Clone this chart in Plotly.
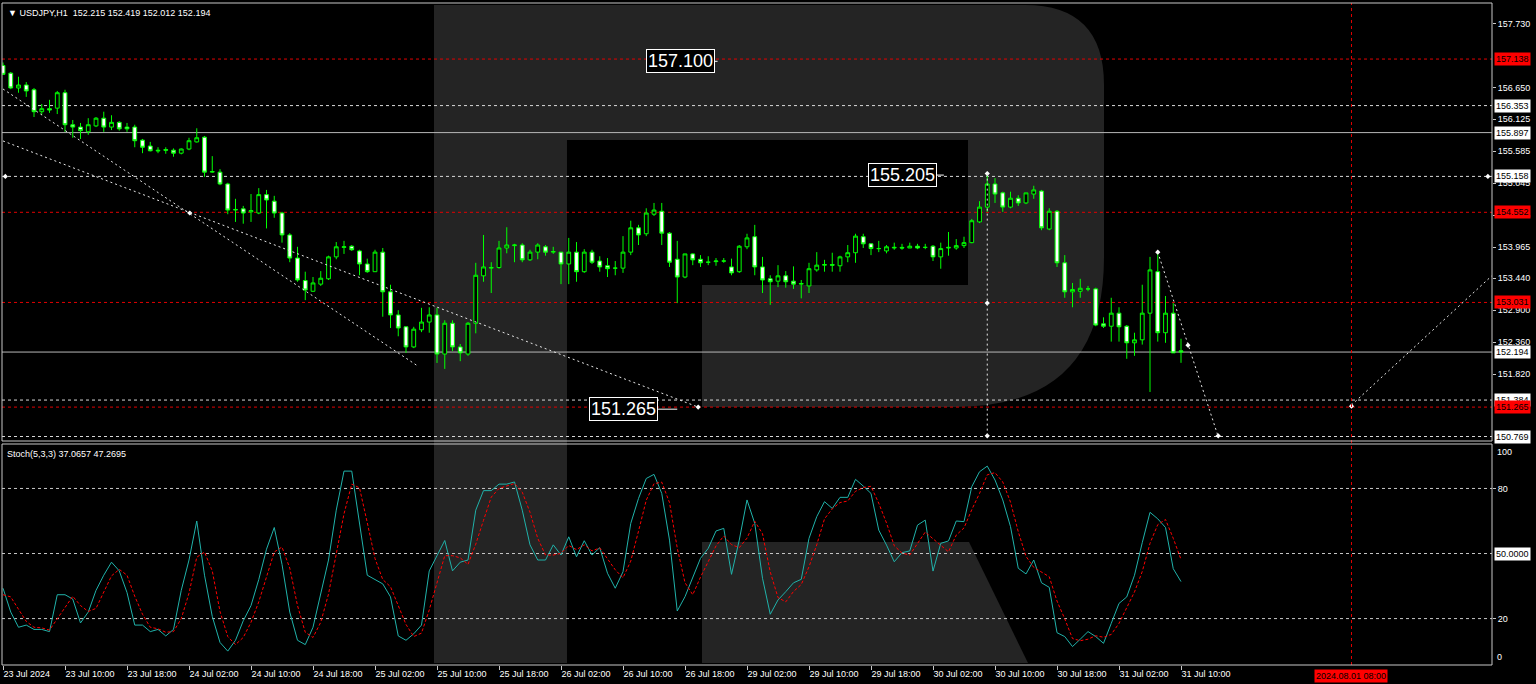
import plotly.graph_objects as go

# ---------------- data ----------------
bar_idx = list(range(153))
opens = [157.03,156.90,156.65,156.70,156.62,156.25,156.30,156.31,156.57,156.03,
         155.99,155.91,156.01,156.14,155.99,156.07,155.99,155.99,155.77,155.67,
         155.60,155.61,155.60,155.55,155.62,155.74,155.82,155.23,155.23,155.03,
         154.59,154.61,154.56,154.54,154.85,154.74,154.54,154.17,153.78,153.40,
         153.22,153.34,153.43,153.80,153.96,153.98,153.90,153.68,153.55,153.88,
         153.21,152.82,152.62,152.28,152.57,152.70,152.82,152.16,152.68,152.28,
         152.16,152.68,153.48,153.61,153.62,153.95,153.99,154.00,153.75,153.88,
         153.97,153.88,153.88,153.68,153.88,153.55,153.88,153.73,153.65,153.61,
         153.61,153.88,154.29,154.19,154.52,154.57,154.20,153.76,153.46,153.85,
         153.76,153.71,153.72,153.73,153.63,153.55,153.97,154.14,153.63,153.43,
         153.39,153.48,153.39,153.34,153.31,153.58,153.66,153.67,153.65,153.80,
         153.87,154.14,154.02,153.94,153.90,153.95,153.96,153.95,153.98,153.96,
         153.98,153.80,153.95,153.95,153.99,154.04,154.39,154.64,155.03,154.88,
         154.64,154.79,154.71,154.86,154.91,154.27,154.57,153.70,153.21,153.22,
         153.26,153.26,152.67,152.63,152.85,152.63,152.35,152.40,152.85,153.55,
         152.52,152.85,152.215]
highs = [157.08,156.92,156.84,156.75,156.65,156.38,156.45,156.60,156.62,156.11,
         156.06,156.14,156.16,156.25,156.19,156.09,156.06,156.03,155.79,155.74,
         155.65,155.65,155.63,155.63,155.81,155.97,155.84,155.50,155.28,155.05,
         154.78,154.66,154.86,154.96,154.93,154.83,154.56,154.20,153.97,153.55,
         153.46,153.56,153.82,154.05,154.07,154.00,153.92,153.77,153.92,153.95,
         153.33,152.90,152.62,152.62,152.94,152.95,152.94,152.73,152.73,152.33,
         152.70,153.70,154.17,153.71,154.07,154.30,154.02,154.03,153.92,154.03,
         154.00,153.97,153.88,154.12,154.05,153.93,153.92,153.81,153.78,153.73,
         154.15,154.41,154.34,154.62,154.71,154.71,154.22,154.07,153.85,153.86,
         153.83,153.81,153.78,153.78,153.77,154.00,154.19,154.34,153.80,153.49,
         153.66,153.56,153.64,153.41,153.70,153.88,153.75,153.87,153.82,154.00,
         154.19,154.19,154.03,154.07,154.00,154.04,154.02,154.04,154.02,154.02,
         154.00,154.04,154.22,154.10,154.14,154.44,154.74,155.205,155.13,154.90,
         154.90,154.84,154.88,155.00,154.93,154.62,154.59,153.83,153.36,153.43,
         153.31,153.28,152.78,153.11,152.95,152.65,152.52,153.33,153.80,153.88,
         153.14,153.02,152.419]
lows = [156.87,156.63,156.57,156.50,156.16,156.20,156.23,156.21,155.91,155.81,
        155.79,155.86,155.99,155.91,155.94,155.93,155.91,155.65,155.55,155.58,
        155.55,155.54,155.49,155.53,155.60,155.73,155.15,155.22,155.01,154.52,
        154.39,154.36,154.39,154.52,154.28,154.46,154.04,153.71,153.38,153.07,
        153.21,153.31,153.41,153.76,153.85,153.90,153.49,153.53,153.55,152.79,
        152.60,152.46,152.18,152.26,152.53,152.52,152.01,151.91,152.21,152.04,
        152.13,152.51,153.38,153.19,153.60,153.86,153.71,153.71,153.73,153.76,
        153.82,153.85,153.34,153.34,153.38,153.53,153.68,153.55,153.46,153.49,
        153.53,153.83,154.00,154.15,154.49,154.00,153.63,153.02,153.44,153.66,
        153.63,153.66,153.65,153.70,153.49,153.53,153.93,153.49,153.19,152.99,
        153.29,153.28,153.26,153.10,153.19,153.55,153.55,153.55,153.55,153.71,
        153.70,153.95,153.83,153.88,153.86,153.92,153.92,153.95,153.93,153.93,
        153.73,153.60,153.82,153.92,153.95,154.03,154.37,154.56,154.71,154.56,
        154.62,154.66,154.69,154.78,154.25,154.25,153.63,153.11,152.95,153.11,
        153.22,152.63,152.60,152.37,152.37,152.08,152.13,152.32,151.52,152.37,
        152.35,152.18,152.012]
closes = [156.88,156.65,156.70,156.60,156.25,156.30,156.28,156.57,156.03,155.99,
          155.93,156.03,156.14,155.99,156.07,155.96,155.96,155.76,155.65,155.59,
          155.59,155.60,155.55,155.62,155.76,155.81,155.23,155.24,155.03,154.59,
          154.60,154.54,154.58,154.85,154.76,154.54,154.17,153.78,153.41,153.24,
          153.36,153.44,153.80,153.97,153.97,153.92,153.68,153.55,153.88,153.21,
          152.82,152.60,152.28,152.58,152.70,152.82,152.16,152.68,152.28,152.18,
          152.68,153.49,153.63,153.62,153.95,154.00,154.00,153.75,153.88,154.00,
          153.88,153.89,153.68,153.88,153.55,153.88,153.71,153.63,153.60,153.61,
          153.88,154.29,154.17,154.54,154.59,154.20,153.71,153.46,153.85,153.75,
          153.70,153.71,153.73,153.73,153.53,153.98,154.12,153.63,153.41,153.38,
          153.48,153.38,153.34,153.35,153.60,153.66,153.67,153.66,153.80,153.87,
          154.15,154.02,153.94,153.94,153.97,153.96,153.95,153.98,153.95,153.96,
          153.80,153.94,153.96,153.99,154.04,154.41,154.64,155.03,154.86,154.64,
          154.79,154.71,154.88,154.93,154.29,154.57,153.70,153.21,153.25,153.27,
          153.26,152.65,152.63,152.85,152.62,152.35,152.40,152.85,153.58,152.52,
          152.85,152.18,152.194]

stoch_k = [34,23,16,17,15,15,14,31,31,29,
           18,23,33,40,46,42,32,17,17,14,
           15,12,15,33,47,65,40,21,9,5,
           10,19,26,38,52,62,45,23,10,8,
           16,31,47,70,88,88,65,40,38,36,
           30,12,10,13,17,42,49,56,42,46,
           47,70,79,79,82,82,83,70,54,47,
           47,54,49.3,57.7,48.5,55.9,49.3,52.7,40.9,34.0,
           41.6,63.9,75.4,84.6,86.5,77.7,56.2,23.5,30.1,39.3,
           47.8,52.4,60.4,61.6,40.4,56.2,74.7,63.9,38.6,22.0,
           28.6,32.4,36.5,38.1,57.0,67.0,73.9,70.8,75.9,75.9,
           84.2,81.1,77.7,60.8,53.9,46.2,50.4,51.2,63.1,65.4,
           41.9,54.7,55.8,65.0,64.7,80.8,87.7,90.3,83.9,74.7,
           62.4,43.2,40.6,47.0,36.5,34.4,13.5,11.7,7.1,10.5,
           14.0,11.7,8.6,17.8,27.0,30,40,55,69,66,
           62,43,37.0657]
stoch_d = [31,30,24.3,18.7,16,15.7,14.7,20,25.3,30.3,
           26,23.3,24.7,32,39.7,42.7,40,30.3,22,16,
           15.3,13.7,14,20,31.7,48.3,50.7,42,23.3,11.7,
           8,11.3,18.3,27.7,38.7,50.7,53,43.3,26,13.7,
           11.3,18.3,31.3,49.3,68.3,82,80.3,64.3,47.7,38,
           34.7,26,17.3,11.7,13.3,24,36,49,49,48,
           45,54.3,65.3,76,80,81,82.3,78.3,69,57,
           49.3,49.3,50.1,53.7,51.8,54,51.2,52.6,47.6,42.5,
           38.8,46.5,60.3,74.6,82.2,82.9,73.5,52.5,36.6,31,
           39.1,46.5,53.5,58.1,54.1,52.7,57.1,64.9,59.1,41.5,
           29.7,27.7,32.5,35.7,43.9,54,66,70.6,73.5,74.2,
           78.7,80.4,81,73.2,64.1,53.6,50.2,49.3,54.9,59.9,
           56.8,54,50.8,58.5,61.8,70.2,77.7,86.3,87.3,83,
           73.7,60.1,48.7,43.6,41.4,39.3,28.1,19.9,10.8,9.8,
           10.5,12.1,11.4,12.7,17.8,24.9,32.3,41.7,54.7,63.3,
           65.7,57,47.2695]

xtick_idx = [0,8,16,24,32,40,48,56,64,72,80,88,96,104,112,120,128,136,144,152]
xtick_text = ["23 Jul 2024","23 Jul 10:00","23 Jul 18:00","24 Jul 02:00","24 Jul 10:00",
              "24 Jul 18:00","25 Jul 02:00","25 Jul 10:00","25 Jul 18:00","26 Jul 02:00",
              "26 Jul 10:00","26 Jul 18:00","29 Jul 02:00","29 Jul 10:00","29 Jul 18:00",
              "30 Jul 02:00","30 Jul 10:00","30 Jul 18:00","31 Jul 02:00","31 Jul 10:00"]
price_ticks = [157.730,156.650,156.125,155.585,155.045,154.505,153.965,153.440,152.900,152.360,151.820]
white_levels = [156.353,155.158,151.384,150.769]
red_levels = [157.138,154.552,153.031,151.265]
solid_levels = [155.897,152.194]
stoch_levels = [80,50,20]
stoch_ticks = [80,20]
future_idx = 174
future_label = "2024.08.01 08:00"

# drawing objects (bar index, price)
trend_lines = [((0,156.633),(53.5,151.96)),
               ((0,155.756),(89.7,151.265)),
               ((127,155.205),(127,150.769)),
               ((149,153.88),(156.8,150.769)),
               ((174,151.30),(192.1,153.48))]
anchor_x = [0.3,24.1,89.7,127,127,127,149,152.9,156.8,174,191.6]
anchor_y = [155.158,154.54,151.265,155.205,153.02,150.78,153.88,152.31,150.78,151.28,155.158]
price_labels = [(87.4,157.10,"157.100",92.2),(116.1,155.18,"155.205",121.4),(80.1,151.23,"151.265",87.0)]

# ---------------- geometry helpers ----------------
W, H = 1536, 684
ML, MR, MT, MB = 2, 44, 3, 19
PW, PH = W-ML-MR, H-MT-MB
def P(px, py):
    return (px-ML)/PW, (H-MB-py)/PH
main_dom = [P(0,441)[1], 1.0]
sto_dom = [0.0, P(0,444)[1]]

def path(cmds):
    out = []
    for c in cmds:
        if c[0] == 'Q':
            a = P(*c[1]); b = P(*c[2])
            out.append(f"Q{a[0]:.5f},{a[1]:.5f} {b[0]:.5f},{b[1]:.5f}")
        else:
            a = P(*c[1])
            out.append(f"{c[0]}{a[0]:.5f},{a[1]:.5f}")
    return " ".join(out) + " Z"

fig = go.Figure()

fig.add_trace(go.Candlestick(
    x=bar_idx, open=opens, high=highs, low=lows, close=closes,
    increasing=dict(line=dict(color="#00ff00", width=1), fillcolor="#000000"),
    decreasing=dict(line=dict(color="#00ff00", width=1), fillcolor="#ffffff"),
    whiskerwidth=0, hoverinfo="skip", xaxis="x", yaxis="y", showlegend=False))

fig.add_trace(go.Scatter(x=bar_idx, y=stoch_k, mode="lines",
    line=dict(color="#20b2aa", width=1), xaxis="x2", yaxis="y2",
    hoverinfo="skip", showlegend=False))
fig.add_trace(go.Scatter(x=bar_idx, y=stoch_d, mode="lines",
    line=dict(color="#ff0000", width=1, dash="3px,2px"), xaxis="x2", yaxis="y2",
    hoverinfo="skip", showlegend=False))

fig.add_trace(go.Scatter(x=anchor_x, y=anchor_y, mode="markers",
    marker=dict(symbol="diamond", size=4, color="white"),
    xaxis="x", yaxis="y", hoverinfo="skip", showlegend=False))

shapes = []
wm = "#242424"
shapes.append(dict(type="path", xref="paper", yref="paper", layer="below",
    fillcolor=wm, line=dict(width=0),
    path=path([('M',(434,5)),('L',(1025,5)),('Q',(1104,5),(1104,85)),('L',(1104,257)),
               ('Q',(1104,407),(955,407)),('L',(702,407)),('L',(702,285)),('L',(567,285)),
               ('L',(567,663)),('L',(434,663))])))
shapes.append(dict(type="path", xref="paper", yref="paper", layer="below",
    fillcolor="#000000", line=dict(width=0),
    path=path([('M',(567,140)),('L',(968,140)),('L',(968,285)),('L',(567,285))])))
shapes.append(dict(type="path", xref="paper", yref="paper", layer="below",
    fillcolor=wm, line=dict(width=0),
    path=path([('M',(702,542)),('L',(969,542)),('L',(1028,663)),('L',(702,663))])))

for lv in white_levels:
    shapes.append(dict(type="line", xref="paper", yref="y", x0=0, x1=1, y0=lv, y1=lv,
                       layer="below", line=dict(color="#d8d8d8", width=1, dash="3px,3px")))
for lv in red_levels:
    shapes.append(dict(type="line", xref="paper", yref="y", x0=0, x1=1, y0=lv, y1=lv,
                       layer="below", line=dict(color="#e00000", width=1, dash="3px,3px")))
for lv in solid_levels:
    shapes.append(dict(type="line", xref="paper", yref="y", x0=0, x1=1, y0=lv, y1=lv,
                       layer="below", line=dict(color="#b8b8b8", width=1)))
for lv in stoch_levels:
    shapes.append(dict(type="line", xref="paper", yref="y2", x0=0, x1=1, y0=lv, y1=lv,
                       layer="below", line=dict(color="#c8c8c8", width=1, dash="3px,3px")))
for (a, b) in trend_lines:
    shapes.append(dict(type="line", xref="x", yref="y", x0=a[0], y0=a[1], x1=b[0], y1=b[1],
                       line=dict(color="#e8e8e8", width=1, dash="2px,3px")))
shapes.append(dict(type="line", xref="x", yref="paper", x0=future_idx, x1=future_idx, y0=0, y1=1,
                   line=dict(color="#e00000", width=1, dash="3px,3px")))
for (lx, ly, txt, tx) in price_labels:
    shapes.append(dict(type="line", xref="x", yref="y", x0=lx, x1=tx, y0=ly, y1=ly,
                       line=dict(color="white", width=1)))
fc = "#c8c8c8"
shapes.append(dict(type="rect", xref="paper", yref="paper", x0=0, x1=1, y0=main_dom[0], y1=1,
                   line=dict(color=fc, width=1)))
shapes.append(dict(type="rect", xref="paper", yref="paper", x0=0, x1=1, y0=0, y1=sto_dom[1],
                   line=dict(color=fc, width=1)))

ann = []
FONT = "Liberation Sans"
FS = 9
ann.append(dict(xref="paper", yref="paper", x=P(6,0)[0], y=1, yshift=-3, xanchor="left", yanchor="top",
                showarrow=False, text="▼ USDJPY,H1  152.215 152.419 152.012 152.194",
                font=dict(family=FONT, size=FS, color="white")))
ann.append(dict(xref="paper", yref="paper", x=P(5,0)[0], y=sto_dom[1], yshift=-3, xanchor="left", yanchor="top",
                showarrow=False, text="Stoch(5,3,3) 37.0657 47.2695",
                font=dict(family=FONT, size=FS, color="white")))
for (lx, ly, txt, tx) in price_labels:
    ann.append(dict(xref="x", yref="y", x=lx, y=ly, showarrow=False, text=txt,
                    font=dict(family=FONT, size=18, color="white"),
                    bgcolor="black", bordercolor="white", borderwidth=1, borderpad=1))
for lv in white_levels + solid_levels:
    ann.append(dict(xref="paper", yref="y", x=1, xshift=2, xanchor="left", y=lv, showarrow=False,
                    text=f"{lv:.3f}", font=dict(family=FONT, size=FS, color="black"),
                    bgcolor="white", borderpad=1))
for lv in red_levels:
    ann.append(dict(xref="paper", yref="y", x=1, xshift=2, xanchor="left", y=lv, showarrow=False,
                    text=f"{lv:.3f}", font=dict(family=FONT, size=FS, color="black"),
                    bgcolor="#ff0000", borderpad=1))
ann.append(dict(xref="paper", yref="y2", x=1, xshift=2, xanchor="left", y=50, showarrow=False,
                text="50.0000", font=dict(family=FONT, size=FS, color="black"),
                bgcolor="white", borderpad=1))
ann.append(dict(xref="paper", yref="y2", x=1, xshift=3, xanchor="left", y=100, yshift=-7,
                showarrow=False, text="100", font=dict(family=FONT, size=FS, color="white")))
ann.append(dict(xref="paper", yref="y2", x=1, xshift=3, xanchor="left", y=0, yshift=5,
                showarrow=False, text="0", font=dict(family=FONT, size=FS, color="white")))
ann.append(dict(xref="x2", yref="paper", x=future_idx, y=0, yshift=-4, yanchor="top", showarrow=False,
                text=future_label, font=dict(family=FONT, size=FS, color="black"),
                bgcolor="#ff0000", borderpad=1))

xr = [-0.13, 192.13]
fig.update_layout(
    width=W, height=H, margin=dict(l=ML, r=MR, t=MT, b=MB, autoexpand=False),
    paper_bgcolor="black", plot_bgcolor="black",
    showlegend=False, hovermode=False,
    shapes=shapes, annotations=ann,
    xaxis=dict(domain=[0,1], anchor="y", range=xr, showticklabels=False, ticks="",
               showgrid=False, zeroline=False, rangeslider=dict(visible=False), showline=False,
               automargin=False),
    xaxis2=dict(domain=[0,1], anchor="y2", range=xr, matches="x", showgrid=False, zeroline=False,
                tickmode="array", tickvals=xtick_idx, ticktext=xtick_text, tickangle=0,
                ticks="outside", ticklen=4, tickcolor="#c8c8c8",
                ticklabelposition="outside right", automargin=False,
                tickfont=dict(family=FONT, size=FS, color="white"), showline=False),
    yaxis=dict(domain=main_dom, anchor="x", range=[150.693, 158.084], side="right",
               tickmode="array", tickvals=price_ticks, ticktext=[f"{v:.3f}" for v in price_ticks],
               ticks="outside", ticklen=3, tickcolor="#c8c8c8", showgrid=False, zeroline=False,
               automargin=False,
               tickfont=dict(family=FONT, size=FS, color="white"), showline=False),
    yaxis2=dict(domain=sto_dom, anchor="x2", range=[-1.4, 100.5], side="right",
                tickmode="array", tickvals=stoch_ticks, ticktext=[str(v) for v in stoch_ticks],
                ticks="outside", ticklen=3, tickcolor="#c8c8c8", showgrid=False, zeroline=False,
                automargin=False,
                tickfont=dict(family=FONT, size=FS, color="white"), showline=False),
)

fig.write_html("out.html", config={"displayModeBar": False},
               post_script="document.body.style.margin='0';document.body.style.overflow='hidden';document.body.style.background='black';")
